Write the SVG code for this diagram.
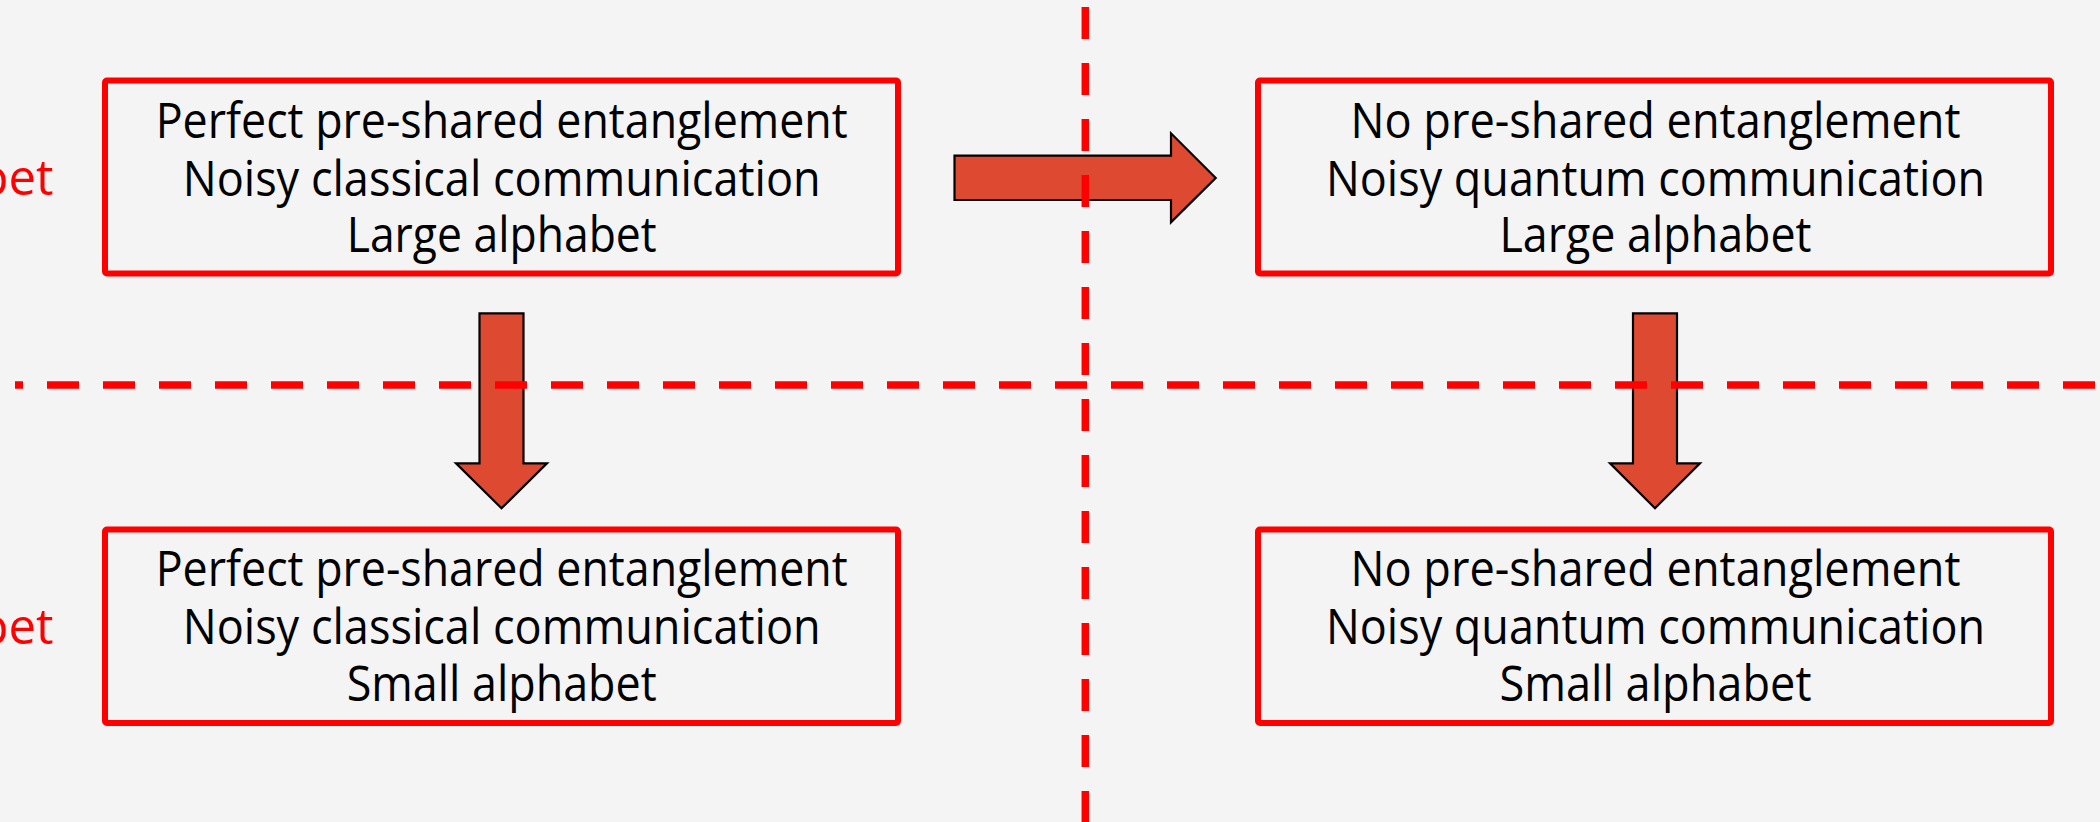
<svg xmlns="http://www.w3.org/2000/svg" width="2100" height="822" viewBox="0 0 2100 822">
  <style>
    .box { fill: none; stroke: #FF0000; stroke-width: 6; }
    .txt { font-family: "Open Sans", "Noto Sans", "Liberation Sans", sans-serif; font-size: 49px; fill: #000000; text-anchor: middle; }
    .side { font-family: "Open Sans", "Noto Sans", "Liberation Sans", sans-serif; font-size: 49px; fill: #FF0000; text-anchor: end; }
    .arrow { fill: #DE4A31; stroke: #000000; stroke-width: 2.2; stroke-linejoin: miter; }
    .divider { stroke: #FF0000; stroke-width: 7.5; stroke-dasharray: 32 24; fill: none; }
  </style>
  <rect x="0" y="0" width="2100" height="822" fill="#F4F4F4"/>

  <g id="connectors">
    <path class="arrow" d="M954.5,155.7 H1171 V133.3 L1215.7,178 L1171,222.3 V200 H954.5 Z"/>
    <path class="arrow" d="M479.5,313.3 H523.5 V463.3 H547 L501.5,508.3 L456,463.3 H479.5 Z"/>
    <path class="arrow" d="M1633,313.3 H1677 V463.3 H1700 L1655,508.3 L1610,463.3 H1633 Z"/>
  </g>

  <g id="dividers">
    <line class="divider" x1="15" y1="385" x2="2100" y2="385" stroke-dashoffset="24"/>
    <line class="divider" x1="1085.3" y1="7" x2="1085.3" y2="822"/>
  </g>

  <g id="side-labels">
    <text class="side" x="53.5" y="195">bet</text>
    <text class="side" x="53.5" y="643.5">bet</text>
  </g>

  <g id="node-top-left">
    <rect class="box" x="105" y="80.5" width="793" height="193" rx="2"/>
    <text class="txt" x="501.7" y="137.7" textLength="692" lengthAdjust="spacingAndGlyphs">Perfect pre-shared entanglement</text>
    <text class="txt" x="501.7" y="195.7" textLength="638" lengthAdjust="spacingAndGlyphs">Noisy classical communication</text>
    <text class="txt" x="501.7" y="251.7" textLength="310" lengthAdjust="spacingAndGlyphs">Large alphabet</text>
  </g>

  <g id="node-top-right">
    <rect class="box" x="1258" y="80.5" width="793" height="193" rx="2"/>
    <text class="txt" x="1655.5" y="137.7" textLength="610" lengthAdjust="spacingAndGlyphs">No pre-shared entanglement</text>
    <text class="txt" x="1655.5" y="195.7" textLength="659" lengthAdjust="spacingAndGlyphs">Noisy quantum communication</text>
    <text class="txt" x="1655.5" y="251.7" textLength="312" lengthAdjust="spacingAndGlyphs">Large alphabet</text>
  </g>

  <g id="node-bottom-left">
    <rect class="box" x="105" y="529.5" width="793" height="193.5" rx="2"/>
    <text class="txt" x="501.7" y="586.3" textLength="692" lengthAdjust="spacingAndGlyphs">Perfect pre-shared entanglement</text>
    <text class="txt" x="501.7" y="644.3" textLength="638" lengthAdjust="spacingAndGlyphs">Noisy classical communication</text>
    <text class="txt" x="501.7" y="701" textLength="310" lengthAdjust="spacingAndGlyphs">Small alphabet</text>
  </g>

  <g id="node-bottom-right">
    <rect class="box" x="1258" y="529.5" width="793" height="193.5" rx="2"/>
    <text class="txt" x="1655.5" y="586.3" textLength="610" lengthAdjust="spacingAndGlyphs">No pre-shared entanglement</text>
    <text class="txt" x="1655.5" y="644.3" textLength="659" lengthAdjust="spacingAndGlyphs">Noisy quantum communication</text>
    <text class="txt" x="1655.5" y="701" textLength="312" lengthAdjust="spacingAndGlyphs">Small alphabet</text>
  </g>
</svg>
